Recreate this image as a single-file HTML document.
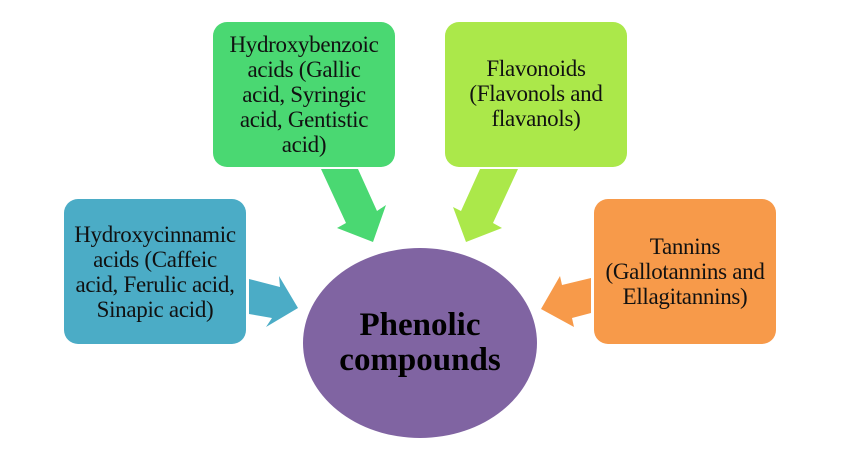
<!DOCTYPE html>
<html><head><style>
body{margin:0;width:855px;height:451px;background:#fff;overflow:hidden;position:relative;font-family:"Liberation Serif",serif}
.b{position:absolute;width:182px;height:145px;border-radius:14px;display:flex;align-items:center;justify-content:center;text-align:center;font-size:23px;line-height:25px;color:#111;letter-spacing:-0.3px}
</style></head><body>
<div class="b" style="left:64px;top:199px;background:#4BACC6">Hydroxycinnamic<br>acids (Caffeic<br>acid, Ferulic acid,<br>Sinapic acid)</div>
<div class="b" style="left:213px;top:22px;background:#4AD872">Hydroxybenzoic<br>acids (Gallic<br>acid, Syringic<br>acid, Gentistic<br>acid)</div>
<div class="b" style="left:445px;top:22px;background:#ABE84A;align-items:flex-start;padding-top:34px;height:111px">Flavonoids<br>(Flavonols and<br>flavanols)</div>
<div class="b" style="left:594px;top:199px;background:#F79A4A">Tannins<br>(Gallotannins and<br>Ellagitannins)</div>
<svg width="855" height="451" style="position:absolute;left:0;top:0">
<polygon fill="#4AD872" points="321,169 358,169 377,211 386,205 373,242 337,228 346,223"/>
<polygon fill="#ABE84A" points="518,169 480,169 461,211 453,207 466,242 502,228 493,223"/>
<polygon fill="#4BACC6" points="249,279 280,287 279,276 298,308 266,327 272,318 249,314"/>
<polygon fill="#F79A4A" points="591,278 562,285 560,276 541,309 574,327 572,318 591,313"/>
<ellipse cx="420" cy="343" rx="117" ry="95" fill="#8064A2"/>
<text x="420" y="335" text-anchor="middle" font-family="Liberation Serif" font-weight="bold" font-size="33" fill="#000">Phenolic</text>
<text x="420" y="370" text-anchor="middle" font-family="Liberation Serif" font-weight="bold" font-size="33" fill="#000">compounds</text>
</svg>
</body></html>
